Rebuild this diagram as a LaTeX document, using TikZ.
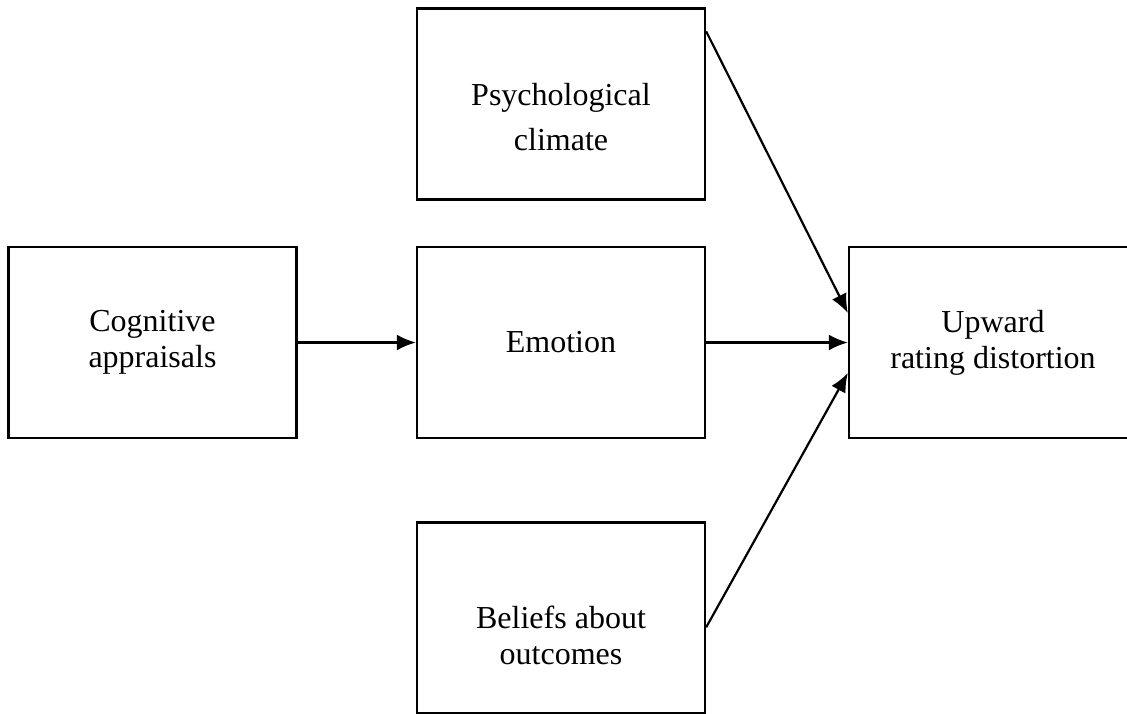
\documentclass[tikz,border=0pt]{standalone}
\usepackage{fontspec}
\setmainfont{Liberation Serif}
\usetikzlibrary{arrows.meta}
\begin{document}
\begin{tikzpicture}[x=1pt,y=-1pt,
  box/.style={draw=black, line width=2.3pt, minimum width=288pt, minimum height=191pt,
    inner sep=0pt, align=center, font=\fontsize{32}{36}\selectfont},
  txt/.style={inner sep=0pt, align=center, font=\fontsize{32}{36}\selectfont},
  arr/.style={line width=2.2pt, -{Latex[length=19pt,width=16pt]}}]
\useasboundingbox (0,0) rectangle (1127,713);
\clip (0,0) rectangle (1127,713);
\node[box] (cog) at (152.5,342.5) {Cognitive\\appraisals};
\node[box] (emo) at (561,342.5) {Emotion};
\node[box] (psy) at (561,104) {};
\node[txt, font=\fontsize{32}{45}\selectfont] (psyT) at (561,117) {Psychological\\climate};
\node[box] (bel) at (561,618) {};
\node[txt] (belT) at (561,635) {Beliefs about\\outcomes};
\node[box] (up) at (993,342.5) {Upward\\rating distortion};
\draw[arr] (cog.east) -- (emo.west);
\draw[arr] (emo.east) -- (up.west);
\draw[arr] ([yshift=-24pt]psy.north east) -- ([yshift=29.5pt]up.west);
\draw[arr] ([yshift=-106pt]bel.north east) -- ([yshift=-30.5pt]up.west);
\end{tikzpicture}
\end{document}
